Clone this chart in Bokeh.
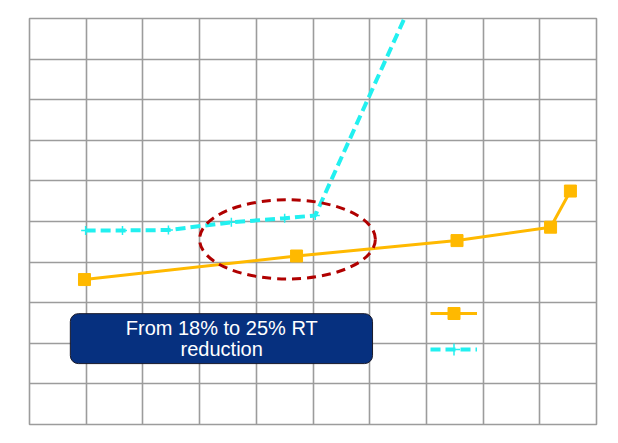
from bokeh.plotting import figure
from bokeh.models import Range1d, FixedTicker, BoxAnnotation, Label, Legend, LegendItem
from bokeh.embed import file_html
from bokeh.resources import INLINE

# Data (grid units)
orange_x = [0.97, 4.71, 7.54, 9.19, 9.54]
orange_y = [3.57, 4.15, 4.53, 4.86, 5.75]
cyan_x = [0.99, 1.64, 2.45, 3.56, 4.50, 5.04, 7.00]
cyan_y = [4.78, 4.78, 4.79, 4.98, 5.08, 5.15, 11.20]
grid_ticks = list(range(0, 11))
highlight = dict(x=[4.55], y=[4.56], w=[3.10], h=[1.95])
box_text = ["From 18% to 25% RT", "reduction"]

p = figure(width=608, height=433, x_range=Range1d(0, 10), y_range=Range1d(0, 10),
           output_backend="svg", toolbar_location=None,
           min_border_left=29, min_border_right=12, min_border_top=18, min_border_bottom=9)
p.axis.visible = False
p.xgrid.ticker = FixedTicker(ticks=grid_ticks)
p.ygrid.ticker = FixedTicker(ticks=grid_ticks)
p.grid.grid_line_color = "#9c9c9c"
p.grid.grid_line_width = 1.6
p.grid.grid_line_alpha = 1.0
p.outline_line_color = "#9c9c9c"
p.outline_line_width = 1.6
p.background_fill_color = "white"
p.border_fill_color = "white"

# orange series
ol = p.line(orange_x, orange_y, line_color="#FFB900", line_width=3)
os_ = p.scatter(orange_x, orange_y, marker="square", size=12, fill_color="#FFB900",
                line_color="#FFB900")

# cyan series
cl = p.line(cyan_x, cyan_y, line_color="#22F0F0", line_width=4, line_dash="10 5")
cs = p.scatter(cyan_x[:-1], cyan_y[:-1], marker="cross", size=9, line_color="#22F0F0",
               line_width=1.5)

# highlight ellipse
p.ellipse(x=highlight["x"], y=highlight["y"], width=highlight["w"], height=highlight["h"],
          fill_alpha=0, line_color="#B00000", line_width=3, line_dash="9 6")

# text box
box = BoxAnnotation(left=0.72, right=6.05, top=2.73, bottom=1.50,
                    fill_color="#06307F", fill_alpha=1.0,
                    line_color="#1a1a2a", line_width=1, line_alpha=1.0,
                    border_radius=8)
p.add_layout(box)
for txt, ty in zip(box_text, [2.37, 1.85]):
    p.add_layout(Label(x=3.39, y=ty, text=txt, text_align="center",
                       text_baseline="alphabetic", text_color="white",
                       text_font="Liberation Sans", text_font_size="20px"))

legend = Legend(items=[LegendItem(label=" ", renderers=[ol, os_]),
                       LegendItem(label=" ", renderers=[cl, cs])],
                location=(401, 60), orientation="vertical",
                glyph_width=47, glyph_height=30, label_height=30, spacing=6,
                padding=0, margin=0, border_line_alpha=0, background_fill_alpha=0,
                label_text_color="white", label_text_font_size="14px")
p.add_layout(legend)

open("out.html", "w").write(file_html(p, INLINE))
